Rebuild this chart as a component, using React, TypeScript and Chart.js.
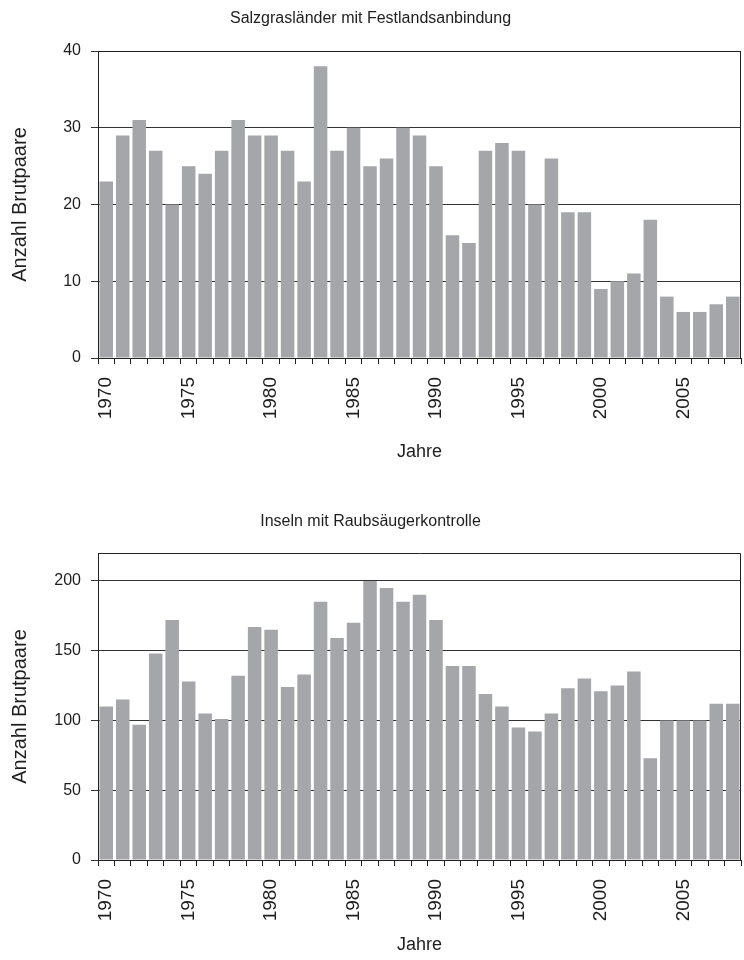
import React, { useEffect, useRef } from "react";
import { Chart, registerables } from "chart.js";

Chart.register(...registerables);

const years: number[] = [];
for (let y = 1970; y <= 2008; y++) years.push(y);

const title1 = "Salzgrasländer mit Festlandsanbindung";
const title2 = "Inseln mit Raubsäugerkontrolle";
const yTitle = "Anzahl Brutpaare";
const xTitle = "Jahre";

const salzgras = [
  23, 29, 31, 27, 20, 25, 24, 27, 31, 29, 29, 27, 23, 38, 27, 30, 25, 26, 30, 29,
  25, 16, 15, 27, 28, 27, 20, 26, 19, 19, 9, 10, 11, 18, 8, 6, 6, 7, 8,
];

const inseln = [
  110, 115, 97, 148, 172, 128, 105, 101, 132, 167, 165, 124, 133, 185, 159, 170, 200, 195, 185, 190,
  172, 139, 139, 119, 110, 95, 92, 105, 123, 130, 121, 125, 135, 73, 100, 100, 100, 112, 112,
];

const FONT = "'Liberation Sans', Arial, Helvetica, sans-serif";
const TEXT = "#1e1e1e";
const BAR = "#a5a6aa";

const framePlugin = {
  id: "frame",
  afterDraw(chart: any) {
    const { ctx, chartArea } = chart;
    ctx.save();
    ctx.strokeStyle = "#222";
    ctx.lineWidth = 1;
    const l = Math.round(chartArea.left) + 0.5;
    const r = Math.round(chartArea.right) - 0.5;
    const t = Math.round(chartArea.top) + 0.5;
    const b = Math.round(chartArea.bottom) + 0.5;
    ctx.beginPath();
    ctx.moveTo(l, b);
    ctx.lineTo(l, t);
    ctx.lineTo(r, t);
    ctx.lineTo(r, b);
    ctx.stroke();
    ctx.restore();
  },
};

type Cfg = {
  title: string;
  data: number[];
  max: number;
  step: number;
  height: number;
  titlePadTop: number;
  titlePadBottom: number;
  xAxisHeight: number;
  xTitlePadBottom: number;
};

function makeConfig(c: Cfg): any {
  return {
    type: "bar",
    data: {
      labels: years.map(String),
      datasets: [
        {
          data: c.data,
          backgroundColor: BAR,
          borderWidth: 0,
          barPercentage: 0.82,
          categoryPercentage: 1,
        },
      ],
    },
    options: {
      animation: false,
      responsive: false,
      devicePixelRatio: 1,
      layout: { padding: { left: 0, right: 3, top: 0, bottom: 0 } },
      plugins: {
        legend: { display: false },
        tooltip: { enabled: false },
        title: {
          display: true,
          text: c.title,
          color: TEXT,
          font: { family: FONT, size: 16, weight: "normal" },
          padding: { top: c.titlePadTop, bottom: c.titlePadBottom },
        },
      },
      scales: {
        x: {
          type: "category",
          offset: true,
          afterFit(scale: any) {
            scale.height = c.xAxisHeight;
            scale.paddingLeft = 0;
            scale.paddingRight = 0;
          },
          grid: {
            offset: true,
            drawOnChartArea: false,
            drawTicks: true,
            tickLength: 6,
            color: "#222",
          },
          border: { display: true, color: "#222" },
          ticks: {
            autoSkip: false,
            minRotation: 90,
            maxRotation: 90,
            padding: 13,
            color: TEXT,
            font: { family: FONT, size: 19 },
            callback(_v: any, i: number) {
              return years[i] % 5 === 0 ? String(years[i]) : "";
            },
          },
          title: {
            display: true,
            text: xTitle,
            color: TEXT,
            font: { family: FONT, size: 18 },
            padding: { top: 0, bottom: c.xTitlePadBottom },
          },
        },
        y: {
          min: 0,
          max: c.max,
          afterFit(scale: any) {
            scale.width = 98;
            scale.paddingTop = 0;
            scale.paddingBottom = 0;
          },
          afterBuildTicks(scale: any) {
            scale.ticks = scale.ticks.filter((t: any) => t.value % c.step === 0);
          },
          grid: {
            color: "#333",
            tickLength: 7,
          },
          border: { display: true, color: "#222" },
          ticks: {
            stepSize: c.step,
            padding: 10,
            color: TEXT,
            font: { family: FONT, size: 16 },
          },
          title: {
            display: true,
            text: yTitle,
            color: TEXT,
            font: { family: FONT, size: 20 },
            padding: { top: 8, bottom: 0 },
          },
        },
      },
    },
    plugins: [framePlugin],
  };
}

function BarChart({ cfg, top }: { cfg: Cfg; top: number }) {
  const ref = useRef<HTMLCanvasElement | null>(null);
  useEffect(() => {
    if (!ref.current) return;
    const chart = new Chart(ref.current, makeConfig(cfg));
    return () => chart.destroy();
  }, []);
  return (
    <canvas
      ref={ref}
      width={744}
      height={cfg.height}
      style={{ position: "absolute", left: 0, top, width: 744, height: cfg.height }}
    />
  );
}

const cfg1: Cfg = {
  title: title1,
  data: salzgras,
  max: 40,
  step: 10,
  height: 490,
  titlePadTop: 9,
  titlePadBottom: 22.8,
  xAxisHeight: 132,
  xTitlePadBottom: 27,
};

const cfg2: Cfg = {
  title: title2,
  data: inseln,
  max: 220,
  step: 50,
  height: 470,
  titlePadTop: 22.4,
  titlePadBottom: 21.4,
  xAxisHeight: 100,
  xTitlePadBottom: 4,
};

export default function App() {
  return (
    <div style={{ position: "fixed", left: 0, top: 0, width: 744, height: 960, background: "#fff" }}>
      <BarChart cfg={cfg1} top={0} />
      <BarChart cfg={cfg2} top={490} />
    </div>
  );
}
